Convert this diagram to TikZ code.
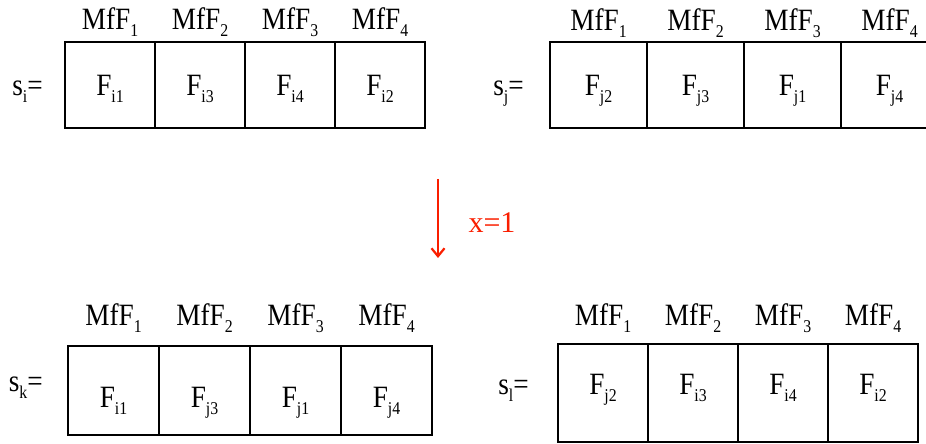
\documentclass[tikz,border=0pt]{standalone}
\usepackage{fontspec}
\setmainfont{Liberation Serif}[FakeStretch=0.88]
\newfontfamily\plainserif{Liberation Serif}
\usetikzlibrary{positioning,arrows.meta}
\definecolor{arrowred}{RGB}{250,30,0}
\newcommand\sbs[1]{\raisebox{-7pt}{\fontsize{18}{18}\selectfont#1}}
\tikzset{
  cell/.style={draw, line width=1.4pt, inner sep=0pt, text height=27pt, text depth=6pt,
    font=\fontsize{31}{34}\selectfont},
  head/.style={anchor=base, font=\fontsize{31}{34}\selectfont},
  rowname/.style={anchor=base east, font=\fontsize{31}{34}\selectfont}
}

\begin{document}
\begin{tikzpicture}[x=1pt,y=1pt]
\useasboundingbox (0,0) rectangle (926,444);
% s_i
\def\w{90}
\foreach \t [count=\n] in {i1,i3,i4,i2}
  \node[cell, minimum width=\w pt, minimum height=86pt] (si\n) at (65+\n*\w-\w/2, 359) {F\sbs{\t}};
\foreach \n in {1,...,4}
  \node[head] (hi\n) at ([yshift=12pt]si\n.north) {MfF\sbs{\n}};
\node[rowname] (si) at ([xshift=-18pt]si1.base west) {s\sbs{i}=};
% s_j
\def\w{97}
\foreach \t [count=\n] in {j2,j3,j1,j4}
  \node[cell, minimum width=\w pt, minimum height=86pt] (sj\n) at (550+\n*\w-\w/2, 359) {F\sbs{\t}};
\foreach \n in {1,...,4}
  \node[head] (hj\n) at ([yshift=11pt]sj\n.north) {MfF\sbs{\n}};
\node[rowname] (sj) at ([xshift=-22pt]sj1.base west) {s\sbs{j}=};
% the move
\coordinate (atop) at (438,265);
\coordinate (abot) at (438,186);
\draw[arrowred, line width=2.2pt, -{Straight Barb[length=8pt,width=13pt]}] (atop) -- (abot);
\node[anchor=base west, text=arrowred, font=\plainserif\fontsize{30}{32}\selectfont] (xval) at (465,211) {x=1};
% s_k
\def\w{91}
\foreach \t [count=\n] in {i1,j3,j1,j4}
  \node[cell, text height=40pt, minimum width=\w pt, minimum height=89pt] (sk\n) at (68+\n*\w-\w/2, 53.5) {F\sbs{\t}};
\foreach \n in {1,...,4}
  \node[head] (hk\n) at ([yshift=20pt]sk\n.north) {MfF\sbs{\n}};
\node[rowname] (sk) at ([xshift=-21pt, yshift=16pt]sk1.base west) {s\sbs{k}=};
% s_l
\def\w{90}
\foreach \t [count=\n] in {j2,i3,i4,i2}
  \node[cell, text height=10pt, minimum width=\w pt, minimum height=98pt] (sl\n) at (558+\n*\w-\w/2, 51) {F\sbs{\t}};
\foreach \n in {1,...,4}
  \node[head] (hl\n) at ([yshift=18pt]sl\n.north) {MfF\sbs{\n}};
\node[rowname] (sl) at ([xshift=-25pt]sl1.base west) {s\sbs{l}=};
\end{tikzpicture}
\end{document}
